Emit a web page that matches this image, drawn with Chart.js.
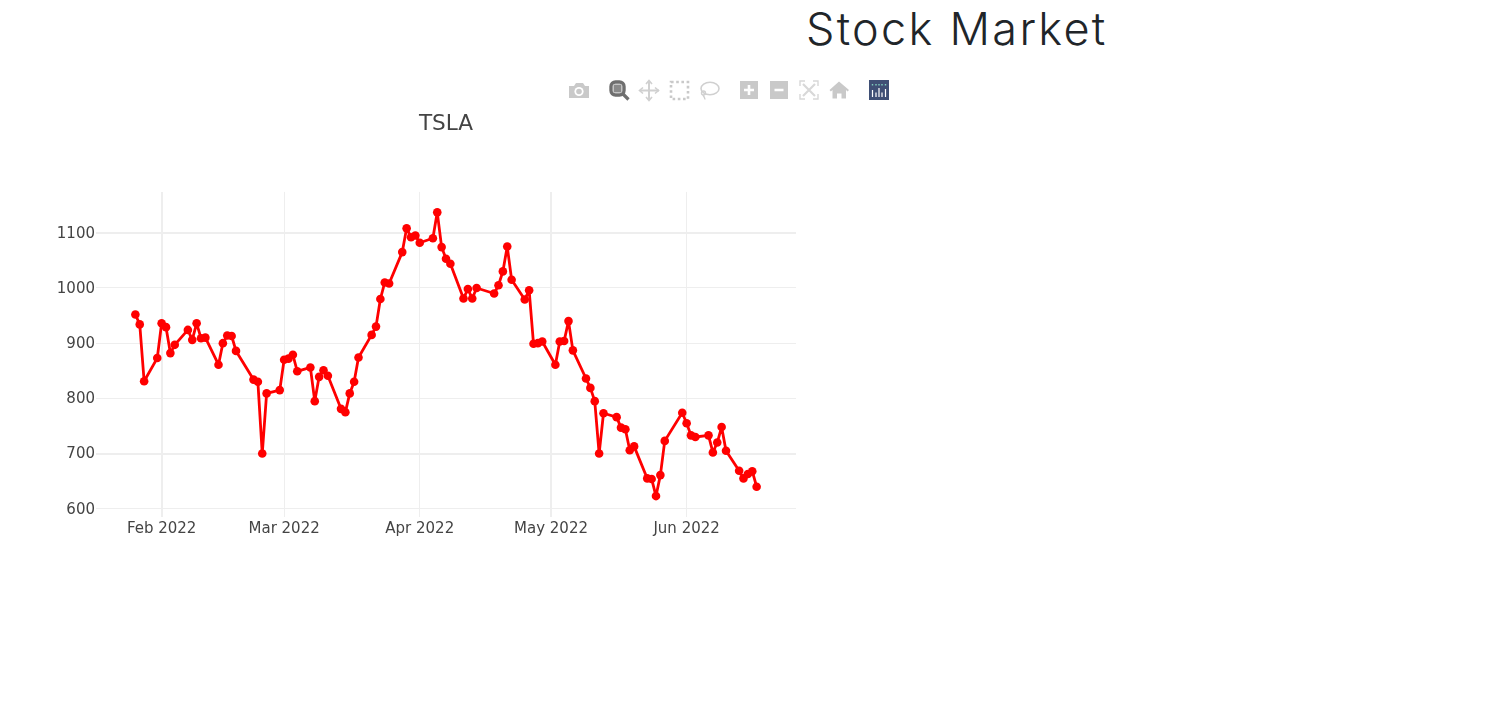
<!DOCTYPE html>
<html>
<head>
<meta charset="utf-8">
<title>Stock Market</title>
<script src="https://cdn.jsdelivr.net/npm/chart.js@4"></script>
<style>
    html, body { margin: 0; padding: 0; background: #fff; overflow: hidden; }
    #page { position: relative; width: 1510px; height: 728px; }
    h1 {
        position: absolute; left: 806px; top: 0; margin: 0;
        font: 300 45px Inter, sans-serif; letter-spacing: 2.3px;
        color: #212529; white-space: nowrap; line-height: 58px;
    }
    #modebar { position: absolute; left: 560px; top: 70px; }
    #chart-box { position: absolute; left: 0; top: 100px; width: 892px; height: 450px; }
</style>
</head>
<body>
<div id="page">
    <h1>Stock Market</h1>

    <!-- the modebar icons, not part of the data -->
    <svg id="modebar" width="340" height="40" viewBox="560 70 340 40">
        <g fill="#c9c9c9" stroke="none">
            <path d="M569 86h5l2-3h7l2 3h4v12h-20z"/>
            <circle cx="579" cy="91.5" r="4.6" fill="#fff"/>
            <circle cx="579" cy="91.5" r="2.8"/>
        </g>
        <g fill="none" stroke="#6f6f6f">
            <rect x="611" y="82" width="13" height="13" rx="4.5" stroke-width="3.4"/>
            <path d="M623 94l5.5 5.5" stroke-width="3.2"/>
            <rect x="613.5" y="84.5" width="8" height="8" fill="#8a8a8a" stroke="none"/>
        </g>
        <g fill="none" stroke="#d0d0d0" stroke-width="2">
            <path d="M649 81v19M640 90.5h19"/>
            <path d="M646 84l3-3.5 3 3.5M646 97l3 3.5 3-3.5M643 87.5l-3.5 3 3.5 3M655 87.5l3.5 3-3.5 3" stroke-width="1.6"/>
            <rect x="671" y="82" width="17" height="17" stroke-width="2.6" stroke-dasharray="2.6 2.6" stroke="#c9c9c9"/>
            <ellipse cx="710" cy="88.5" rx="9" ry="6.3" stroke-width="1.6"/>
            <circle cx="703.5" cy="93" r="2" stroke-width="1.4"/>
            <path d="M703 95c1 1.5 2 3 2 4.5" stroke-width="1.4"/>
        </g>
        <g fill="#c9c9c9">
            <rect x="740" y="81" width="18" height="18"/>
            <rect x="770" y="81" width="18" height="18"/>
        </g>
        <path d="M749 85v10M744 90h10M774.5 90h9" stroke="#fff" stroke-width="2.6" fill="none"/>
        <g fill="none" stroke="#d8d8d8" stroke-width="1.4">
            <path d="M805 81h-5v5M813 81h5v5M805 99h-5v-5M813 99h5v-5"/>
            <path d="M803 84l12 12M815 84l-12 12" stroke-width="2.2"/>
        </g>
        <path d="M839 81.5l-9.5 8.5 1.4 1.4 1.6-1.3v8.4h4.5v-5h4.5v5h4.5v-8.4l1.6 1.3 1.4-1.4z" fill="#c9c9c9"/>
        <rect x="869" y="80" width="20" height="20" fill="#3f4f75"/>
        <path d="M872.5 90v7M876 92.5v4.5M879 88v9M882 92.5v4.5M885.5 89v8" stroke="#fff" stroke-width="1.2" fill="none"/>
        <path d="M872.5 84v1.5M876 84v1.5M879 84v1.5M882 84v1.5M885.5 84v1.5" stroke="#80cfbe" stroke-width="1.4" fill="none"/>
    </svg>

    <div id="chart-box"><canvas id="line-chart" width="892" height="450"></canvas></div>
</div>

<script>
const tradingDays = [
    '2022-01-26', '2022-01-27', '2022-01-28', '2022-01-31', '2022-02-01', '2022-02-02', '2022-02-03', '2022-02-04',
    '2022-02-07', '2022-02-08', '2022-02-09', '2022-02-10', '2022-02-11', '2022-02-14', '2022-02-15', '2022-02-16',
    '2022-02-17', '2022-02-18', '2022-02-22', '2022-02-23', '2022-02-24', '2022-02-25', '2022-02-28', '2022-03-01',
    '2022-03-02', '2022-03-03', '2022-03-04', '2022-03-07', '2022-03-08', '2022-03-09', '2022-03-10', '2022-03-11',
    '2022-03-14', '2022-03-15', '2022-03-16', '2022-03-17', '2022-03-18', '2022-03-21', '2022-03-22', '2022-03-23',
    '2022-03-24', '2022-03-25', '2022-03-28', '2022-03-29', '2022-03-30', '2022-03-31', '2022-04-01', '2022-04-04',
    '2022-04-05', '2022-04-06', '2022-04-07', '2022-04-08', '2022-04-11', '2022-04-12', '2022-04-13', '2022-04-14',
    '2022-04-18', '2022-04-19', '2022-04-20', '2022-04-21', '2022-04-22', '2022-04-25', '2022-04-26', '2022-04-27',
    '2022-04-28', '2022-04-29', '2022-05-02', '2022-05-03', '2022-05-04', '2022-05-05', '2022-05-06', '2022-05-09',
    '2022-05-10', '2022-05-11', '2022-05-12', '2022-05-13', '2022-05-16', '2022-05-17', '2022-05-18', '2022-05-19',
    '2022-05-20', '2022-05-23', '2022-05-24', '2022-05-25', '2022-05-26', '2022-05-27', '2022-05-31', '2022-06-01',
    '2022-06-02', '2022-06-03', '2022-06-06', '2022-06-07', '2022-06-08', '2022-06-09', '2022-06-10', '2022-06-13',
    '2022-06-14', '2022-06-15', '2022-06-16', '2022-06-17'
];
const prices = [
    952, 934, 831, 873, 936, 929, 882, 897,
    924, 906, 936, 909, 910, 861, 900, 914,
    913, 886, 834, 830, 700, 809, 815, 870,
    872, 879, 849, 856, 795, 839, 851, 841,
    781, 775, 809, 830, 874, 915, 930, 980,
    1010, 1008, 1065, 1108, 1092, 1095, 1082, 1090,
    1137, 1074, 1053, 1044, 981, 998, 981, 1000,
    990, 1005, 1030, 1075, 1015, 979, 996, 899,
    900, 903, 861, 903, 904, 940, 887, 836,
    819, 795, 700, 773, 766, 747, 744, 706,
    713, 655, 654, 623, 661, 723, 774, 755,
    733, 730, 733, 702, 720, 748, 705, 669,
    655, 663, 668, 640
];
const monthTicks = ['2022-02-01', '2022-03-01', '2022-04-01', '2022-05-01', '2022-06-01'];
const monthLabels = ['Feb 2022', 'Mar 2022', 'Apr 2022', 'May 2022', 'Jun 2022'];
const priceTicks = [600, 700, 800, 900, 1000, 1100];

// some grid lines land on two pixels in the original
const thickMonths = ['2022-02-01', '2022-05-01'].map(d => Date.parse(d));
const thickPrices = [700, 1100];

const tickFont = { family: '"DejaVu Sans"', size: 15 };

// centre the title over the plot area instead of the whole canvas
const titleOverPlot = {
    id: 'titleOverPlot',
    afterLayout: chart => {
        chart.titleBlock.left = chart.chartArea.left;
        chart.titleBlock.right = chart.chartArea.right;
    }
};

const ctx = document.getElementById('line-chart').getContext('2d');

new Chart(ctx, {
    type: 'line',
    plugins: [titleOverPlot],
    data: {
        datasets: [{
            label: 'TSLA',
            data: tradingDays.map((d, i) => ({ x: Date.parse(d), y: prices[i] })),
            borderColor: '#ff0000',
            backgroundColor: '#ff0000',
            borderWidth: 2.8,
            borderJoinStyle: 'round',
            pointRadius: 4.3,
            pointBorderWidth: 0,
            tension: 0
        }]
    },
    options: {
        responsive: false,
        animation: false,
        layout: { padding: { right: 96 } },
        plugins: {
            legend: { display: false },
            tooltip: { enabled: false },
            title: {
                display: true,
                text: 'TSLA',
                color: '#444',
                font: { family: '"DejaVu Sans"', size: 21.6, weight: 'normal' },
                padding: { top: 11, bottom: 55 }
            }
        },
        scales: {
            x: {
                type: 'linear',
                min: Date.parse('2022-01-17T00:00:00Z'),
                max: Date.parse('2022-06-26T00:00:00Z'),
                afterBuildTicks: axis => {
                    axis.ticks = monthTicks.map(d => ({ value: Date.parse(d) }));
                },
                afterFit: axis => { axis.height = 33.5; },
                border: { display: false },
                grid: {
                    color: '#eeeeee',
                    drawTicks: false,
                    lineWidth: c => (c.tick && thickMonths.includes(c.tick.value) ? 2 : 1)
                },
                ticks: {
                    autoSkip: false,
                    maxRotation: 0,
                    padding: 4,
                    color: '#444',
                    font: tickFont,
                    callback: (value, index) => monthLabels[index]
                }
            },
            y: {
                min: 586,
                max: 1174,
                afterBuildTicks: axis => {
                    axis.ticks = priceTicks.map(v => ({ value: v }));
                },
                afterFit: axis => { axis.width = 96; },
                border: { display: false },
                grid: {
                    color: '#eeeeee',
                    drawTicks: false,
                    lineWidth: c => (c.tick && thickPrices.includes(c.tick.value) ? 2 : 1)
                },
                ticks: {
                    padding: 1,
                    labelOffset: 1,
                    color: '#444',
                    font: tickFont,
                    callback: value => String(value)
                }
            }
        }
    }
});
</script>
</body>
</html>
